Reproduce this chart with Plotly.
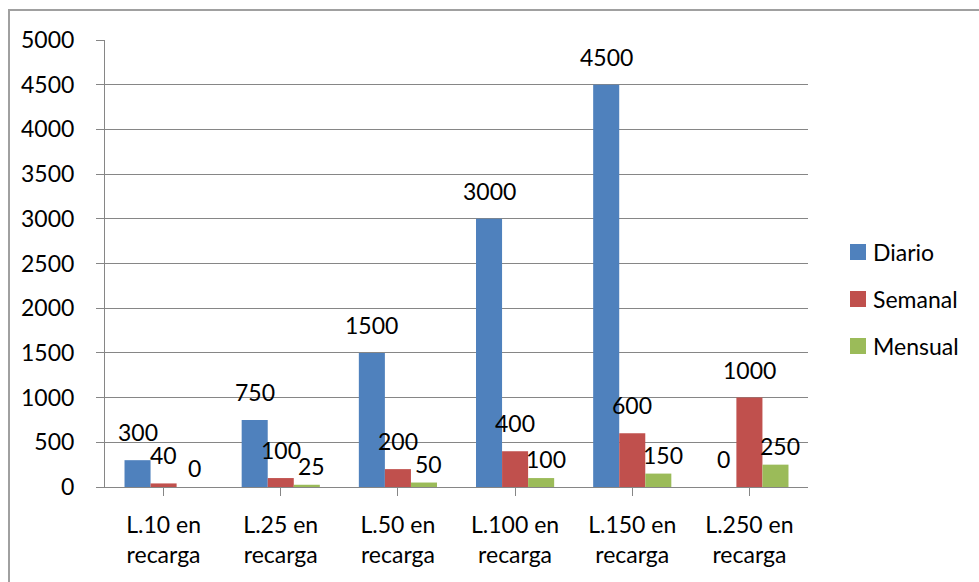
import plotly.graph_objects as go

# Recharge amounts per plan and period
categories = ["L.10 en<br>recarga", "L.25 en<br>recarga", "L.50 en<br>recarga",
              "L.100 en<br>recarga", "L.150 en<br>recarga", "L.250 en<br>recarga"]
series_names = ["Diario", "Semanal", "Mensual"]
diario = [300, 750, 1500, 3000, 4500, 0]
semanal = [40, 100, 200, 400, 600, 1000]
mensual = [0, 25, 50, 100, 150, 250]
y_ticks = [0, 500, 1000, 1500, 2000, 2500, 3000, 3500, 4000, 4500, 5000]

series_values = [diario, semanal, mensual]
colors = ["#4F81BD", "#C0504D", "#9BBB59"]
# per-series label nudges (px)
label_xshift = [0, 0, 5]
label_yshift = [12, 12, 3]

FONT = "Lato"
FS = 23
GRID = "#868686"
BARGAP = 0.333

# plot area in pixels, used to place the legend keys
L, R, T, B = 105, 171, 40, 95
W, H = 979, 582
PW, PH = W - L - R, H - T - B


def px_x(p):
    return (p - L) / PW


def px_y(p):
    return (H - B - p) / PH


fig = go.Figure()
for name, vals, col in zip(series_names, series_values, colors):
    fig.add_trace(go.Bar(
        name=name, x=list(range(len(categories))), y=vals,
        marker=dict(color=col, line=dict(width=0)),
    ))

# value labels above each bar
bw = (1 - BARGAP) / len(series_names)
annotations = []
for k, vals in enumerate(series_values):
    for i, v in enumerate(vals):
        annotations.append(dict(
            x=i + (k - 1) * bw, y=v, xref="x", yref="y",
            text=str(v), showarrow=False, yanchor="bottom", xanchor="center",
            xshift=label_xshift[k], yshift=label_yshift[k],
            font=dict(family=FONT, size=FS, color="black"),
        ))

# legend: coloured key square plus series name
shapes = [dict(
    type="rect", xref="paper", yref="paper",
    x0=px_x(9), x1=px_x(1000), y0=px_y(620), y1=px_y(10),
    line=dict(color="#A0A0A0", width=2), fillcolor="rgba(0,0,0,0)",
    layer="below",
)]
legend_centers = [252, 299, 346]
for name, col, cy in zip(series_names, colors, legend_centers):
    shapes.append(dict(
        type="rect", xref="paper", yref="paper",
        x0=px_x(850), x1=px_x(866), y0=px_y(cy + 8), y1=px_y(cy - 8),
        line=dict(width=0), fillcolor=col,
    ))
    annotations.append(dict(
        x=px_x(871), y=px_y(cy), xref="paper", yref="paper",
        text=name, showarrow=False, xanchor="left", yanchor="middle",
        font=dict(family=FONT, size=FS, color="black"),
    ))

fig.update_layout(
    width=W, height=H,
    margin=dict(l=L, r=R, t=T, b=B),
    paper_bgcolor="white", plot_bgcolor="white",
    barmode="group", bargap=BARGAP, bargroupgap=0,
    font=dict(family=FONT, size=FS, color="black"),
    annotations=annotations,
    shapes=shapes,
    showlegend=False,
)

fig.update_xaxes(
    tickmode="array", tickvals=list(range(len(categories))), ticktext=categories,
    range=[-0.5, len(categories) - 0.5],
    showline=True, linecolor=GRID, linewidth=1,
    ticks="outside", ticklen=8, tickcolor=GRID, tickson="boundaries",
    showgrid=False, zeroline=False,
    tickfont=dict(family=FONT, size=FS, color="black"),
    ticklabelstandoff=9,
)
fig.update_yaxes(
    range=[0, 5000], tickmode="array", tickvals=y_ticks,
    showline=True, linecolor=GRID, linewidth=1,
    ticks="outside", ticklen=8, tickcolor=GRID,
    showgrid=True, gridcolor=GRID, gridwidth=1,
    zeroline=False,
    tickfont=dict(family=FONT, size=FS, color="black"),
    ticklabelstandoff=17,
)

fig.write_html("out.html")
